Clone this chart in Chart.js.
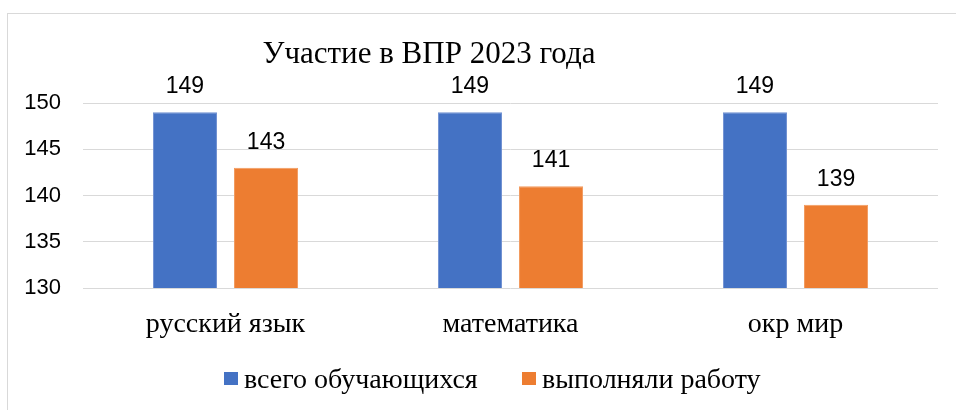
<!DOCTYPE html>
<html><head><meta charset="utf-8">
<script src="https://cdn.jsdelivr.net/npm/chart.js@4"></script>
<style>
html,body{margin:0;padding:0;background:#fff;overflow:hidden;width:956px;height:410px;}
#frame{position:absolute;left:7px;top:13px;width:970px;height:420px;border:1px solid #d9d9d9;box-sizing:border-box;}
#wrap{position:absolute;left:0;top:0;width:956px;height:410px;}
</style></head>
<body>
<div id="frame"></div>
<div id="wrap"><canvas id="c" width="956" height="410"></canvas></div>
<script>
const title = 'Участие в ВПР 2023 года';
const categories = ['русский язык', 'математика', 'окр мир'];
const seriesNames = ['всего обучающихся', 'выполняли работу'];
const totalStudents = [149, 149, 149];
const completedWork = [143, 141, 139];
const yTicks = [130, 135, 140, 145, 150];
const colors = ['#4472C4', '#ED7D31'];

const serif = '"Liberation Serif", "Times New Roman", serif';
const sans = '"Liberation Sans", Arial, sans-serif';

const extras = {
  id: 'extras',
  afterDatasetsDraw(chart) {
    const ctx = chart.ctx;
    ctx.save();
    // data labels
    ctx.font = '23px ' + sans;
    ctx.fillStyle = '#000';
    ctx.textAlign = 'center';
    ctx.textBaseline = 'alphabetic';
    chart.data.datasets.forEach((ds, i) => {
      chart.getDatasetMeta(i).data.forEach((bar, j) => {
        ctx.fillText(String(ds.data[j]), bar.x, bar.y - 19);
      });
    });
    // title
    ctx.font = '31px ' + serif;
    ctx.textAlign = 'center';
    ctx.fillText(title, 429, 63);
    // legend
    ctx.font = '28px ' + serif;
    ctx.textAlign = 'left';
    const items = [[224, seriesNames[0]], [522, seriesNames[1]]];
    items.forEach(([x, label], i) => {
      ctx.fillStyle = colors[i];
      ctx.fillRect(x, 372, 14, 13);
      ctx.fillStyle = '#000';
      ctx.fillText(label, x + 20, 388);
    });
    ctx.restore();
  }
};

new Chart(document.getElementById('c'), {
  type: 'bar',
  data: {
    labels: categories,
    datasets: [
      { label: seriesNames[0], data: totalStudents, backgroundColor: colors[0], borderColor: '#6f90d2', borderWidth: 1 },
      { label: seriesNames[1], data: completedWork, backgroundColor: colors[1], borderColor: '#f29a5e', borderWidth: 1 }
    ]
  },
  options: {
    responsive: false,
    animation: false,
    devicePixelRatio: 1,
    layout: { padding: { top: 103, right: 18, left: 0, bottom: 70 } },
    datasets: { bar: { categoryPercentage: 0.569, barPercentage: 0.79 } },
    plugins: { legend: { display: false }, title: { display: false }, tooltip: { enabled: false } },
    scales: {
      x: {
        grid: { display: false, drawTicks: false },
        border: { display: false },
        ticks: { font: { family: serif, size: 28 }, color: '#000', padding: 20 },
        afterFit(s) { s.height = 52; }
      },
      y: {
        min: 130, max: 150,
        afterBuildTicks(s) { s.ticks = yTicks.map(v => ({ value: v })); },
        grid: { color: '#d9d9d9', lineWidth: 1, drawTicks: false },
        border: { display: false },
        ticks: { font: { family: sans, size: 22 }, color: '#000', padding: 22 },
        afterFit(s) { s.width = 83; }
      }
    }
  },
  plugins: [extras]
});
</script>
</body></html>
